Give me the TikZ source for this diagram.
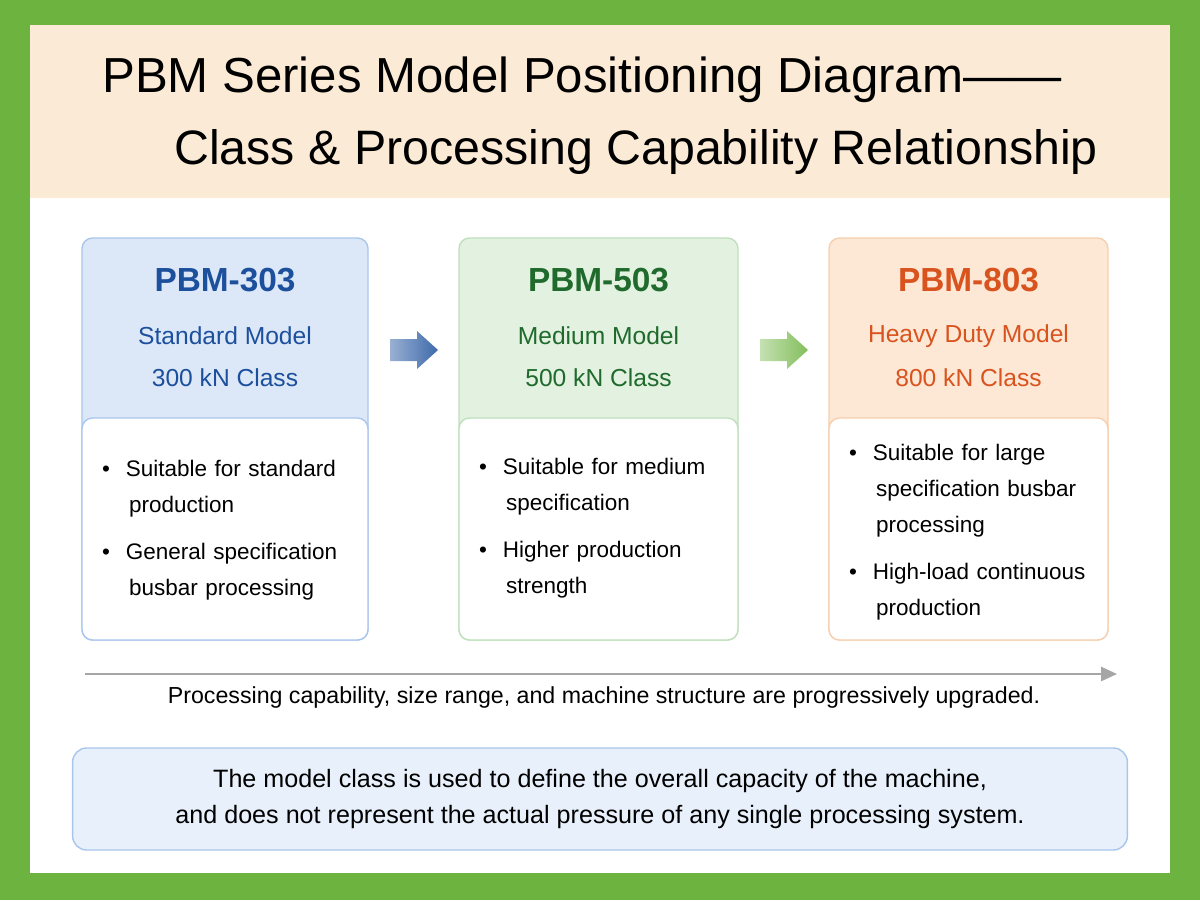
\documentclass[tikz,border=0pt]{standalone}
\usepackage{fontspec}
\setmainfont{Liberation Sans}
\usetikzlibrary{arrows.meta}
\definecolor{bgreen}{HTML}{6DB33F}
\definecolor{beige}{HTML}{FBEBD6}
\definecolor{tblue}{HTML}{1C4F9C}
\definecolor{tgreen}{HTML}{1F6A2C}
\definecolor{torange}{HTML}{D9531E}
\definecolor{fblue}{HTML}{DCE8F8}
\definecolor{fgreen}{HTML}{E2F1E0}
\definecolor{forange}{HTML}{FDE8D6}
\definecolor{lblue}{HTML}{A9C6EC}
\definecolor{lgreen}{HTML}{BFE0BC}
\definecolor{lorange}{HTML}{F7CFAE}
\definecolor{noteblue}{HTML}{E8F0FB}
\begin{document}
\begin{tikzpicture}[x=0.02cm,y=-0.02cm,
  card/.style={rounded corners=6pt,line width=0.8pt},
  ttl/.style={font=\fontsize{19}{22}\selectfont\bfseries},
  sub/.style={font=\fontsize{14}{17}\selectfont},
  bul/.style={font=\fontsize{12.8}{20.5}\selectfont,align=left,text width=5.3cm,anchor=north west}]
\fill[bgreen] (0,0) rectangle (1200,900);
\fill[white] (30,25) rectangle (1170,873);
\fill[beige] (30,25) rectangle (1170,198);
\node[anchor=west,font=\fontsize{28}{32}\selectfont] (t1) at (96,80) {PBM Series Model Positioning Diagram——};
\node[anchor=west,font=\fontsize{27.5}{32}\selectfont] (t2) at (168,152) {Class \& Processing Capability Relationship};
% cards
\foreach \x/\w/\f/\l/\t/\c/\s/\k/\n in {82/286/fblue/lblue/tblue/PBM-303/Standard Model/300 kN Class/a,459/279/fgreen/lgreen/tgreen/PBM-503/Medium Model/500 kN Class/b,829/279/forange/lorange/torange/PBM-803/Heavy Duty Model/800 kN Class/c}{
  \draw[card,fill=\f,draw=\l] (\x,238) rectangle ++(\w,402);
  \draw[card,fill=white,draw=\l] (\x,418) rectangle ++(\w,222);
  \node[ttl,text=\t] (\n1) at (\x+\w/2,280) {\c};
  \node[sub,text=\t] (\n2) at (\x+\w/2,336) {\s};
  \node[sub,text=\t] (\n3) at (\x+\w/2,378) {\k};
}
\node[bul] (ba) at (96,454) {•\hspace{0.7em}Suitable for standard\\\hspace{1.2em}production\\[6pt]•\hspace{0.7em}General specification\\\hspace{1.2em}busbar processing};
\node[bul] (bb) at (473,452) {•\hspace{0.7em}Suitable for medium\\\hspace{1.2em}specification\\[6pt]•\hspace{0.7em}Higher production\\\hspace{1.2em}strength};
\node[bul] (bc) at (843,438) {•\hspace{0.7em}Suitable for large\\\hspace{1.2em}specification busbar\\\hspace{1.2em}processing\\[6pt]•\hspace{0.7em}High-load continuous\\\hspace{1.2em}production};
\path[left color=tblue!45,right color=tblue!85,shading angle=90] (390,339) -- (417,339) -- (417,331) -- (438,350) -- (417,369) -- (417,361) -- (390,361) -- cycle;
\path[left color=bgreen!40,right color=bgreen!85,shading angle=90] (760,339) -- (787,339) -- (787,331) -- (808,350) -- (787,369) -- (787,361) -- (760,361) -- cycle;
\coordinate (ls) at (85,674);
\coordinate (le) at (1117,674);
\draw[gray!70,line width=1.2pt,-{Triangle[length=9pt,width=8pt]}] (ls) -- (le);
\node[font=\fontsize{13.2}{16}\selectfont] (prog) at (604,697) {Processing capability, size range, and machine structure are progressively upgraded.};
\node[draw=lblue,fill=noteblue,rounded corners=8pt,line width=0.8pt,minimum width=21.1cm,minimum height=2.04cm,align=center,font=\fontsize{14.3}{20}\selectfont] (note) at (600,799) {The model class is used to define the overall capacity of the machine,\\and does not represent the actual pressure of any single processing system.};
\end{tikzpicture}
\end{document}
